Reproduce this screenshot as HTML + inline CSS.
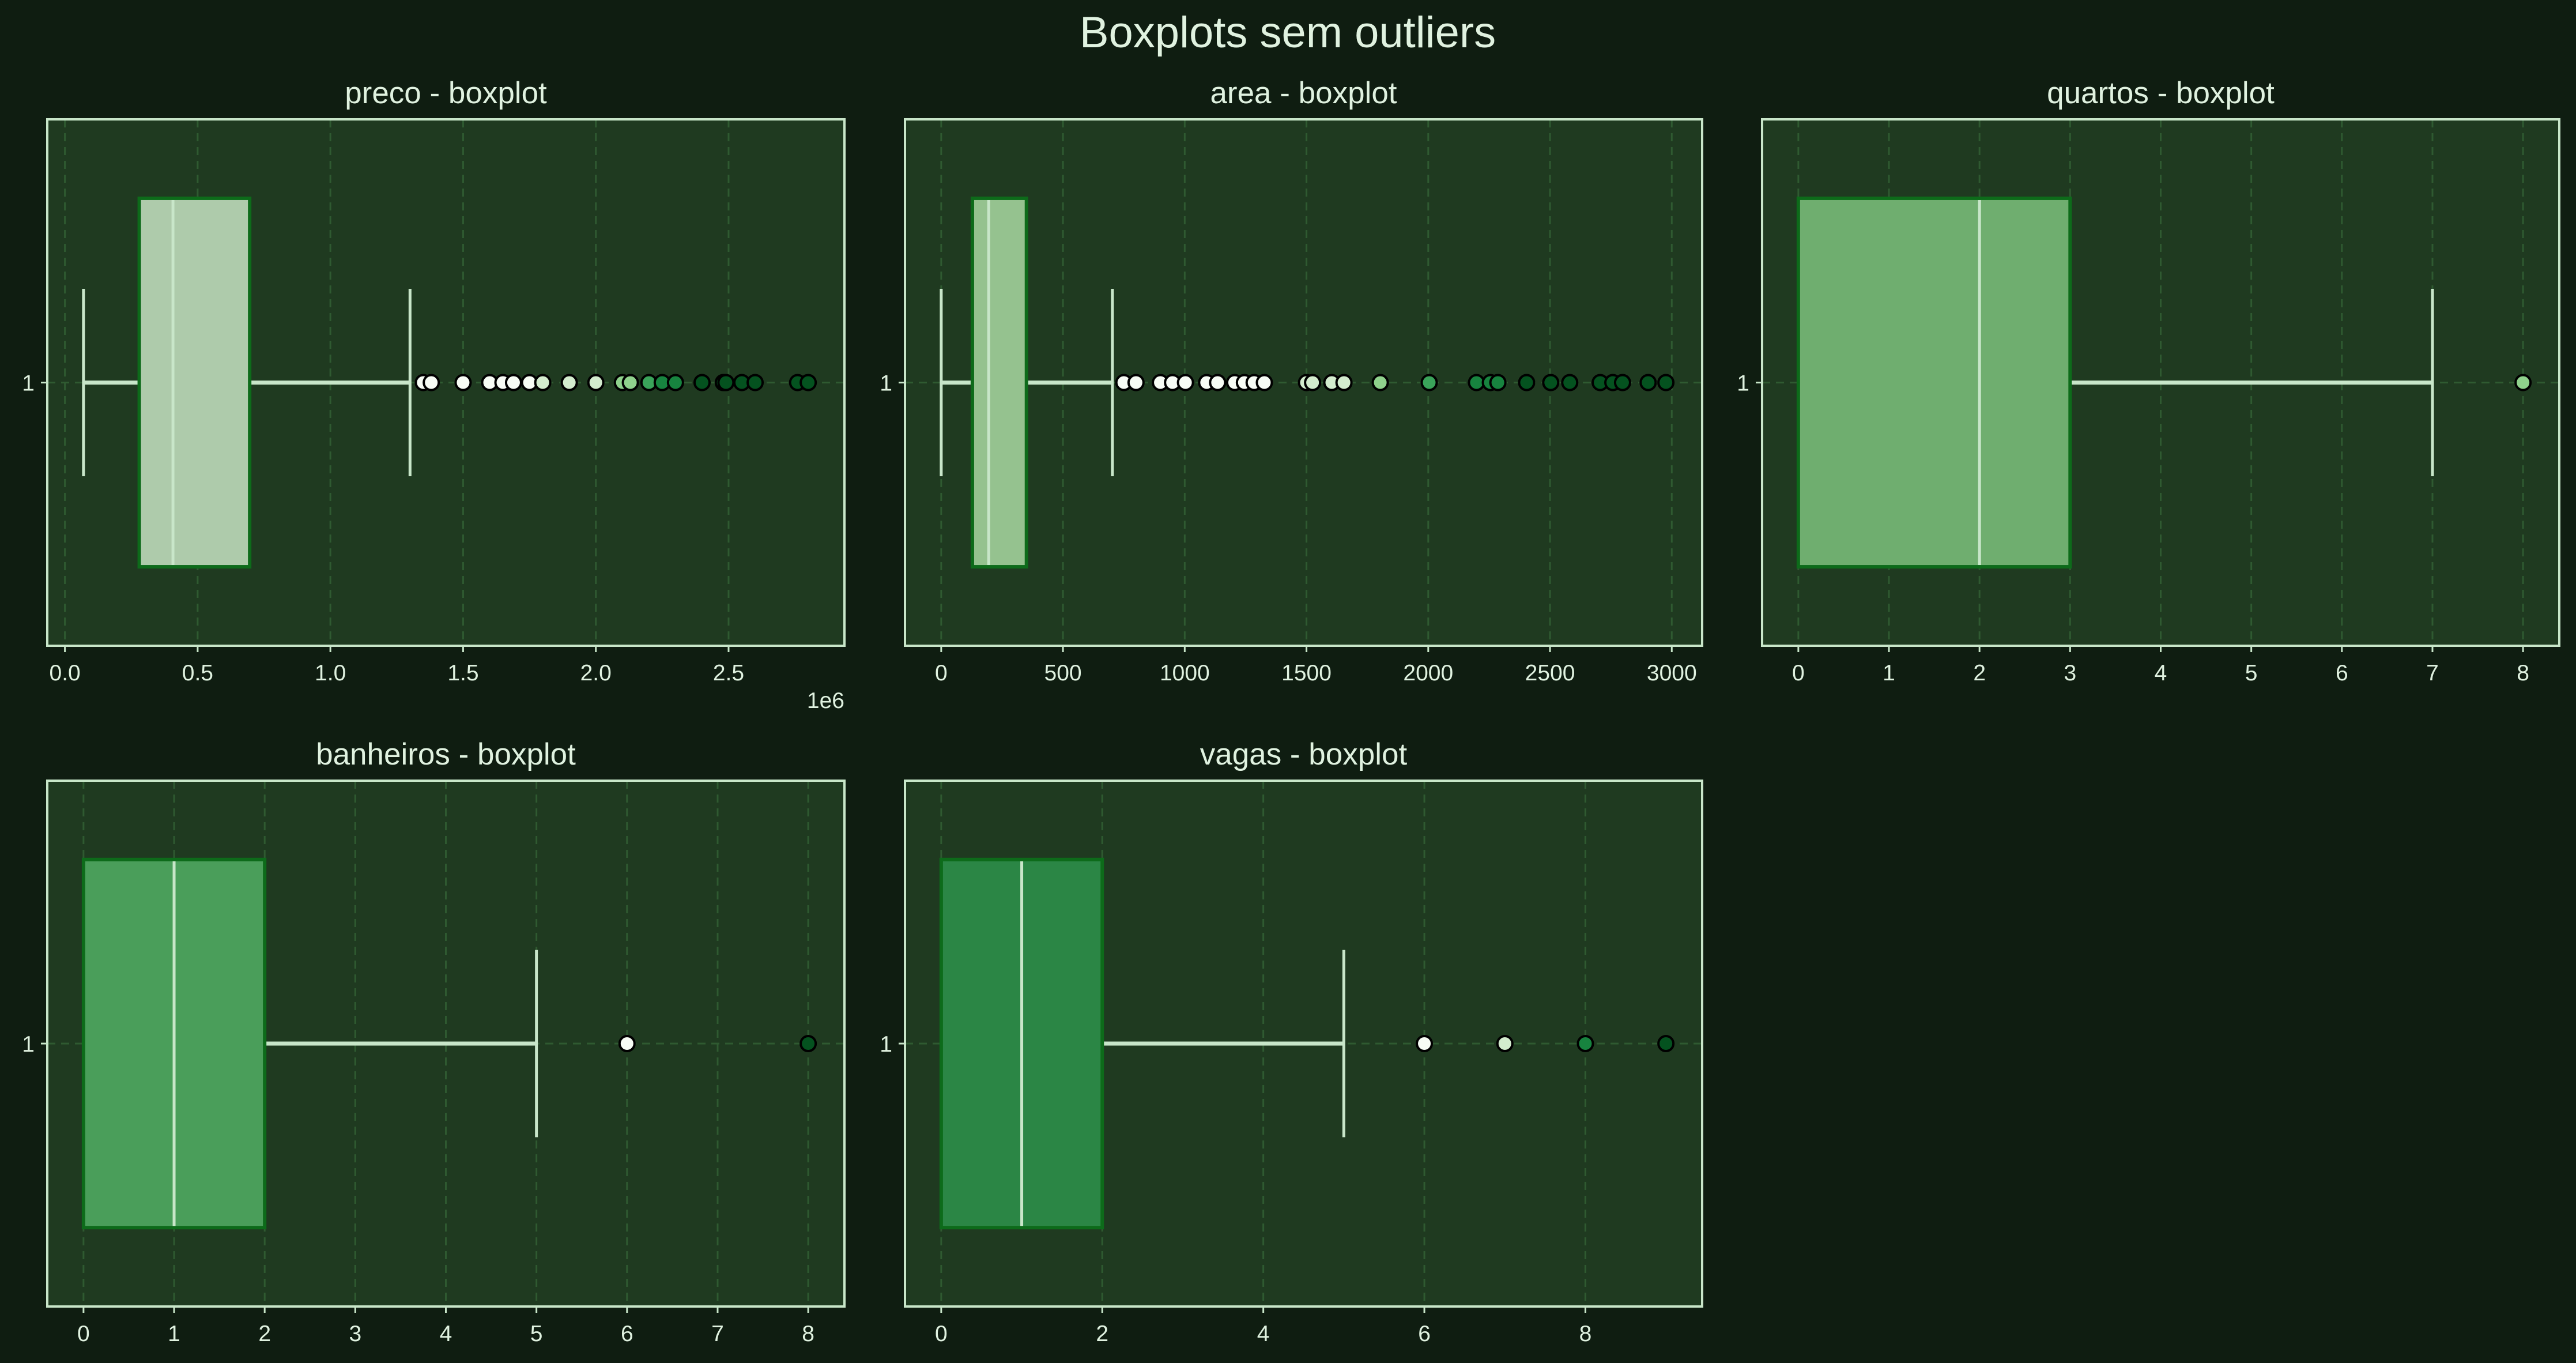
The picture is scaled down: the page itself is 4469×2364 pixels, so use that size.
<!DOCTYPE html>
<html><head><meta charset="utf-8"><style>
html,body{margin:0;padding:0;background:#0f1d11;}
svg{display:block;font-family:"Liberation Sans",sans-serif;}
</style></head><body>
<svg id="chart" width="4469" height="2364" viewBox="0 0 4469 2364" xmlns="http://www.w3.org/2000/svg">
<rect x="0" y="0" width="4469" height="2364" fill="#0f1d11"/>
<text x="2234" y="82" font-size="76" fill="#e0f2e0" text-anchor="middle">Boxplots sem outliers</text>
</svg>
<script>
// ---- data ----
const panelNames = ["preco","area","quartos","banheiros","vagas"];
const precoStats = [0.07, 0.28, 0.407, 0.696, 1.30];
const precoOutliers = [1.35,1.38,1.50,1.60,1.65,1.69,1.75,1.80,1.90,2.00,2.10,2.13,2.20,2.25,2.30,2.40,2.48,2.49,2.55,2.60,2.76,2.80];
const precoTicks = [0,0.5,1.0,1.5,2.0,2.5];
const precoTickLabels = ["0.0","0.5","1.0","1.5","2.0","2.5"];
const areaStats = [0, 128, 195, 350, 703];
const areaOutliers = [750,800,900,950,1003,1090,1135,1205,1245,1285,1327,1500,1525,1604,1654,1803,2004,2198,2255,2286,2404,2503,2581,2706,2758,2798,2903,2976];
const areaTicks = [0,500,1000,1500,2000,2500,3000];
const areaTickLabels = ["0","500","1000","1500","2000","2500","3000"];
const quartosStats = [0,0,2,3,7];
const quartosOutliers = [8];
const quartosTicks = [0,1,2,3,4,5,6,7,8];
const quartosTickLabels = ["0","1","2","3","4","5","6","7","8"];
const banheirosStats = [0,0,1,2,5];
const banheirosOutliers = [6,8];
const banheirosTicks = [0,1,2,3,4,5,6,7,8];
const banheirosTickLabels = ["0","1","2","3","4","5","6","7","8"];
const vagasStats = [0,0,1,2,5];
const vagasOutliers = [6,7,8,9];
const vagasTicks = [0,2,4,6,8];
const vagasTickLabels = ["0","2","4","6","8"];

const NS="http://www.w3.org/2000/svg";
const svg=document.getElementById('chart');
function mk(tag,attrs,parent){const e=document.createElementNS(NS,tag);for(const k in attrs)e.setAttribute(k,attrs[k]);(parent||svg).appendChild(e);return e;}

const layouts=[
 {x0:82,x1:1465,y0:207,y1:1120,fill:"#aecbab"},
 {x0:1570,x1:2953,y0:207,y1:1120,fill:"#95c28f"},
 {x0:3057,x1:4440,y0:207,y1:1120,fill:"#6fae6f"},
 {x0:82,x1:1465,y0:1354,y1:2266,fill:"#4a9e5a"},
 {x0:1570,x1:2953,y0:1354,y1:2266,fill:"#2b8645"}
];
const allStats=[precoStats,areaStats,quartosStats,banheirosStats,vagasStats];
const allOut=[precoOutliers,areaOutliers,quartosOutliers,banheirosOutliers,vagasOutliers];
const allTicks=[precoTicks,areaTicks,quartosTicks,banheirosTicks,vagasTicks];
const allTickLabels=[precoTickLabels,areaTickLabels,quartosTickLabels,banheirosTickLabels,vagasTickLabels];

function outColor(t){
  if(t<0.3) return "#f7fcf5";
  if(t<0.45) return "#d3ecce";
  if(t<0.55) return "#8fd18c";
  if(t<0.62) return "#3aa35a";
  if(t<0.7) return "#17843f";
  return "#04521f";
}

panelNames.forEach((name,i)=>{
  const L=layouts[i], st=allStats[i], outs=allOut[i];
  const g=mk('g',{});
  
  
  const dmin=Math.min(st[0],...outs), dmax=Math.max(st[4],...outs);
  const pad=(dmax-dmin)*0.05, lo=dmin-pad, hi=dmax+pad;
  const sx=v=>L.x0+(v-lo)/(hi-lo)*(L.x1-L.x0);
  const H=L.y1-L.y0, cy=L.y0+H/2;
  const sy=v=>cy+v*H;
  const bg=mk('rect',{x:L.x0,y:L.y0,width:L.x1-L.x0,height:H,fill:"#1f3a20"},g);
  
  
  allTicks[i].forEach((t,k)=>{
    const x=sx(t);
    const gl=mk('line',{x1:x,x2:x,y1:L.y0,y2:L.y1,stroke:"#2f5a31","stroke-width":3,"stroke-dasharray":"14,10"},g);
    
    
    const tk=mk('line',{x1:x,x2:x,y1:L.y1,y2:L.y1+11,stroke:"#c8e6c9","stroke-width":3},g);
    
    
    const tl=mk('text',{x:x,y:L.y1+60,"font-size":39,fill:"#e0f2e0","text-anchor":"middle"},g);
    tl.textContent=allTickLabels[i][k];
    
    
  });
  const hg=mk('line',{x1:L.x0,x2:L.x1,y1:cy,y2:cy,stroke:"#2f5a31","stroke-width":3,"stroke-dasharray":"14,10"},g);
  
  
  const wl=mk('line',{x1:sx(st[0]),x2:sx(st[1]),y1:cy,y2:cy,stroke:"#c8e6c9","stroke-width":7},g);
  
  
  const wh=mk('line',{x1:sx(st[3]),x2:sx(st[4]),y1:cy,y2:cy,stroke:"#c8e6c9","stroke-width":7},g);
  
  
  [0,4].forEach(j=>{
    const c=mk('line',{x1:sx(st[j]),x2:sx(st[j]),y1:sy(-0.178),y2:sy(0.178),stroke:"#c8e6c9","stroke-width":5},g);
    
    
  });
  const bx=mk('rect',{x:sx(st[1]),y:sy(-0.35),width:sx(st[3])-sx(st[1]),height:H*0.7,fill:L.fill,stroke:"#0d6b1a","stroke-width":6},g);
  
  
  const md=mk('line',{x1:sx(st[2]),x2:sx(st[2]),y1:sy(-0.35)+3,y2:sy(0.35)-3,stroke:"#c8e6c9","stroke-width":5},g);
  
  
  const omin=Math.min(...outs), omax=Math.max(...outs);
  outs.forEach(v=>{
    const t=omax>omin?(v-omin)/(omax-omin):0.5;
    const p=mk('circle',{cx:sx(v),cy:cy,r:13,fill:outColor(t),stroke:"#000","stroke-width":4},g);
    
    
  });
  const sp=mk('rect',{x:L.x0,y:L.y0,width:L.x1-L.x0,height:H,fill:"none",stroke:"#c8e6c9","stroke-width":4},g);
  
  
  const yt=mk('line',{x1:L.x0-11,x2:L.x0,y1:cy,y2:cy,stroke:"#c8e6c9","stroke-width":3},g);
  
  
  const yl=mk('text',{x:L.x0-22,y:cy+14,"font-size":39,fill:"#e0f2e0","text-anchor":"end"},g);
  yl.textContent="1";
  
  
  const ti=mk('text',{x:(L.x0+L.x1)/2,y:L.y0-28,"font-size":53,fill:"#e0f2e0","text-anchor":"middle"},g);
  ti.textContent=name+" - boxplot";
  
  
  if(name==="preco"){
    const ex=mk('text',{x:L.x1,y:L.y1+108,"font-size":39,fill:"#e0f2e0","text-anchor":"end"},g);
    ex.textContent="1e6";
    
    
  }
});
</script>
</body></html>
